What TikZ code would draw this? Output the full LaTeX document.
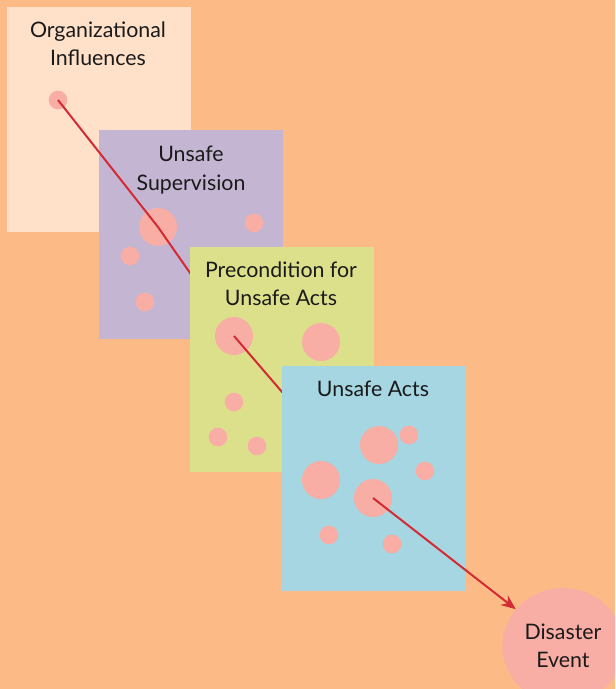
\documentclass[tikz,border=0pt]{standalone}
\usepackage{fontspec}
\setmainfont{Lato}
\usetikzlibrary{arrows.meta, positioning, shapes.geometric}

\definecolor{bgorange}{HTML}{FCBB86}
\definecolor{orgfill}{HTML}{FFE0C9}
\definecolor{supfill}{HTML}{C4B5D3}
\definecolor{prefill}{HTML}{DDE08B}
\definecolor{actfill}{HTML}{A6D6E1}
\definecolor{holepink}{HTML}{F8ADA5}
\definecolor{pathred}{HTML}{D42A33}
\definecolor{txtdark}{HTML}{1A1A1A}

\begin{document}
\begin{tikzpicture}[
    x=0.75pt, y=-0.75pt,
    layer/.style={rectangle, anchor=north west, inner sep=0pt,
                  minimum width=138pt, minimum height=168.75pt},
    title/.style={anchor=base, align=center, inner sep=0pt, text=txtdark,
                  font=\fontsize{16}{21.3}\selectfont},
    hole/.style={circle, fill=holepink, inner sep=0pt, minimum size=14pt},
    bighole/.style={hole, minimum size=28.5pt},
    trace/.style={pathred, line width=1.5pt},
]
\useasboundingbox (0,0) rectangle (615,689);
\clip (0,0) rectangle (615,689);
\fill[bgorange] (0,0) rectangle (615,689);

% Path of the accident
\coordinate (h1) at (58,100);
\coordinate (h2) at (158,227);
\coordinate (h3) at (234,336);
\coordinate (h4) at (373,498);

% Organizational Influences
\node[layer, fill=orgfill] (org) at (7,7) {};
\node[title] (orgtitle) at (98,65.7) {Organizational\\Influences};
\node[hole] (c1) at (h1) {};

% Unsafe Supervision
\node[layer, fill=supfill, minimum height=156.75pt] (sup) at (99,130) {};
\node[title] (suptitle) at (191,190) {Unsafe\\Supervision};
\node[bighole] (c2) at (h2) {};
\foreach \x/\y [count=\i] in {254/223, 130/256, 145/302}
    \node[hole] (sup\i) at (\x,\y) {};
\draw[trace] (h1) -- (h2) -- (h3);

% Precondition for Unsafe Acts
\node[layer, fill=prefill] (pre) at (190,247) {};
\node[title] (pretitle) at (281,305.7) {Precondition for\\Unsafe Acts};
\node[bighole] (c3) at (h3) {};
\node[bighole] (pre1) at (321,342) {};
\foreach \x/\y [count=\i from 2] in {234/402, 218/437, 257/446}
    \node[hole] (pre\i) at (\x,\y) {};
\draw[trace] (h3) -- (h4);

% Unsafe Acts
\node[layer, fill=actfill] (act) at (282,366) {};
\node[title] (acttitle) at (373,396.7) {Unsafe Acts};
\node[bighole] (c4) at (h4) {};
\foreach \x/\y [count=\i] in {379/445, 321/480}
    \node[bighole] (actbig\i) at (\x,\y) {};
\foreach \x/\y [count=\i] in {409/435, 425/471, 329/535, 392/544}
    \node[hole] (act\i) at (\x,\y) {};

% Disaster
\node[ellipse, fill=holepink, minimum width=90pt, minimum height=87pt,
      align=center, text=txtdark, font=\fontsize{16}{21.3}\selectfont]
      (dis) at (563,646) {Disaster\\Event};
\draw[trace, -{Stealth[length=11pt, width=9pt]}] (h4) -- (dis);
\end{tikzpicture}
\end{document}
